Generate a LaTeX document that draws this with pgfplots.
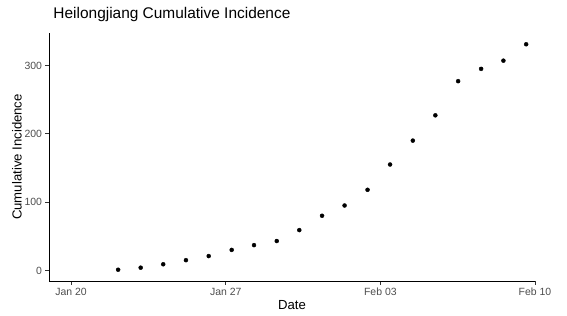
\documentclass[border=0pt]{standalone}
\usepackage{fontspec}
\setmainfont{Liberation Sans}
\usepackage{pgfplots}
\pgfplotsset{compat=1.18}
\definecolor{tickgray}{HTML}{4D4D4D}
\definecolor{axisgray}{HTML}{333333}
\begin{document}
\begin{tikzpicture}
\begin{axis}[
  scale only axis, width=486bp, height=248bp,
  xmin=-1, xmax=21, ymin=-15.5, ymax=347.5,
  axis x line*=bottom, axis y line*=left,
  xtick={0,7,14,21}, xticklabels={Jan 20,Jan 27,Feb 03,Feb 10},
  ytick={0,100,200,300},
  tick align=outside, major tick length=3.5bp,
  tick style={axisgray, line width=0.8bp},
  axis line style={black, line width=0.8bp},
  ticklabel style={font=\fontsize{10.5}{12}\selectfont, text=tickgray},
  /pgf/number format/assume math mode=true,
  xlabel={Date}, ylabel={Cumulative Incidence},
  label style={font=\fontsize{13.2}{15}\selectfont},
  xlabel style={at={(axis description cs:0.5,-0.1169)}, anchor=base},
  ylabel style={at={(axis description cs:-0.0658,0.5)}, anchor=center},
  title={Heilongjiang Cumulative Incidence},
  title style={font=\fontsize{15.5}{18}\selectfont, at={(axis description cs:0.002,1.0363)}, anchor=base west},
  clip=false,
]
\addplot[only marks, mark=*, mark size=2bp, black] coordinates {
(2.13,1) (3.15,4) (4.17,9) (5.20,15) (6.23,21) (7.27,30) (8.28,37) (9.31,43)
(10.33,59) (11.36,80) (12.38,95) (13.42,118) (14.44,155) (15.47,190)
(16.49,227) (17.52,277) (18.56,295) (19.57,307) (20.60,331)
};
\end{axis}
\pgfresetboundingbox
\useasboundingbox (-49bp,-35bp) rectangle (518bp,281bp);
\end{tikzpicture}
\end{document}
